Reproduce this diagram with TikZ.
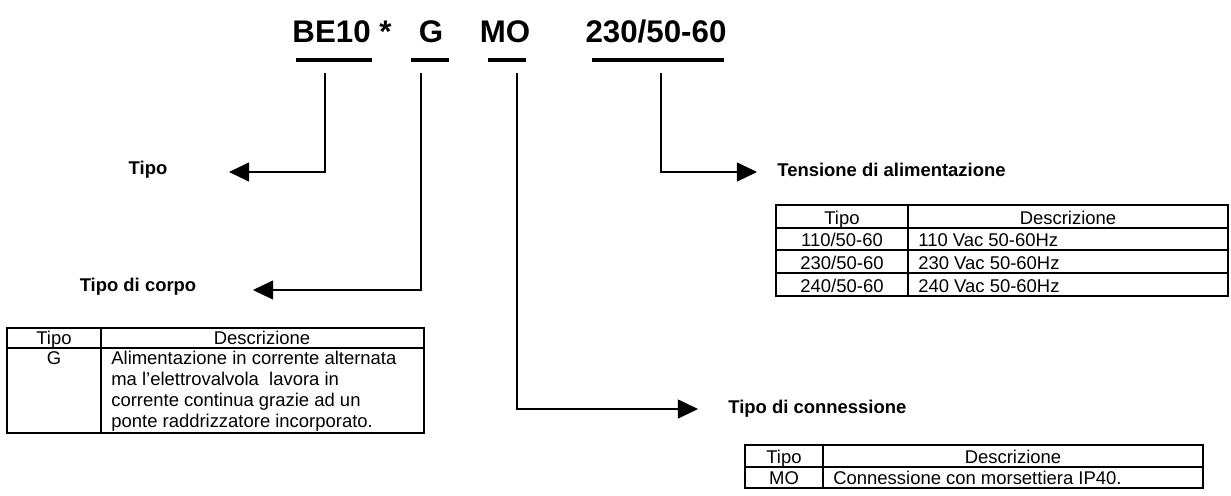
\documentclass[tikz,border=0pt]{standalone}
\usepackage{fontspec}
\setmainfont{Liberation Sans}
\usetikzlibrary{arrows.meta}

\begin{document}
\begin{tikzpicture}
[x=0.02cm,y=-0.02cm,
 code/.style={font=\fontsize{17.8}{20}\selectfont\bfseries,anchor=base,inner sep=0pt},
 bar/.style={line width=2.8pt},
 conn/.style={line width=0.6pt,-{Triangle[length=11.4pt,width=10.8pt]}},
 lbl/.style={font=\fontsize{10.5}{12.6}\selectfont\bfseries,inner sep=0pt},
 cell/.style={font=\fontsize{10.5}{12.6}\selectfont,anchor=base,inner sep=0pt},
 tab/.style={line width=1.1pt}
]
\useasboundingbox (0,0) rectangle (1231,495);

% codice di ordinazione
\node[code] (be) at (342,42) {BE10 *};
\node[code] (g) at (431,42) {G};
\node[code] (mo) at (505,42) {MO};
\node[code] (volt) at (656,42) {230/50-60};

\draw[bar] (296,60) -- (372,60);
\draw[bar] (411,60) -- (449,60);
\draw[bar] (488,60) -- (526,60);
\draw[bar] (592,60) -- (724,60);

\coordinate (sBE) at (325,73);
\coordinate (sG) at (421,73);
\coordinate (sMO) at (517,73);
\coordinate (sV) at (661,73);
\coordinate (tTipo) at (229,172);
\coordinate (tCorpo) at (253,290);
\coordinate (tConn) at (698,409);
\coordinate (tTens) at (757,172);

\draw[conn] (sBE) |- (tTipo);
\draw[conn] (sG) |- (tCorpo);
\draw[conn] (sMO) |- (tConn);
\draw[conn] (sV) |- (tTens);

\node[lbl] (tipo) at (148,170) {Tipo};
\node[lbl] (corpo) at (138,287) {Tipo di corpo};
\node[lbl,anchor=west] (tens) at (777,170) {Tensione di alimentazione};
\node[lbl,anchor=west] (conn) at (728,409) {Tipo di connessione};

% tabella tensione
\draw[tab] (776,205) rectangle (1228,296);
\foreach \y in {228,250,273} \draw[tab] (776,\y) -- (1228,\y);
\draw[tab] (908,205) -- (908,296);
\node[cell] (tvTipo) at (842,224) {Tipo};
\node[cell] (tvDesc) at (1068,224) {Descrizione};
\foreach \v/\y in {110/246.5,230/269,240/292}{
  \node[cell] (tv\v) at (842,\y) {\v/50-60};
  \node[cell,anchor=base west] (dv\v) at (918,\y) {\v{} Vac 50-60Hz};
}

% tabella corpo
\draw[tab] (7,328) rectangle (424,433);
\draw[tab] (7,348) -- (424,348);
\draw[tab] (101,328) -- (101,433);
\node[cell] (tcTipo) at (54,344) {Tipo};
\node[cell] (tcDesc) at (262,344) {Descrizione};
\node[cell] (tcG) at (54,364.5) {G};
\node[cell,anchor=base west] (dc1) at (111,364.5) {Alimentazione in corrente alternata};
\node[cell,anchor=base west] (dc2) at (111,385.5) {ma l’elettrovalvola~ lavora in};
\node[cell,anchor=base west] (dc3) at (111,406.5) {corrente continua grazie ad un};
\node[cell,anchor=base west] (dc4) at (111,427.5) {ponte raddrizzatore incorporato.};

% tabella connessione
\draw[tab] (745,445) rectangle (1203,488);
\draw[tab] (745,467) -- (1203,467);
\draw[tab] (823,445) -- (823,488);
\node[cell] (tkTipo) at (784,463) {Tipo};
\node[cell] (tkDesc) at (1013,463) {Descrizione};
\node[cell] (tkMO) at (784,484) {MO};
\node[cell,anchor=base west] (dkMO) at (833,484) {Connessione con morsettiera IP40.};

\end{tikzpicture}
\end{document}
